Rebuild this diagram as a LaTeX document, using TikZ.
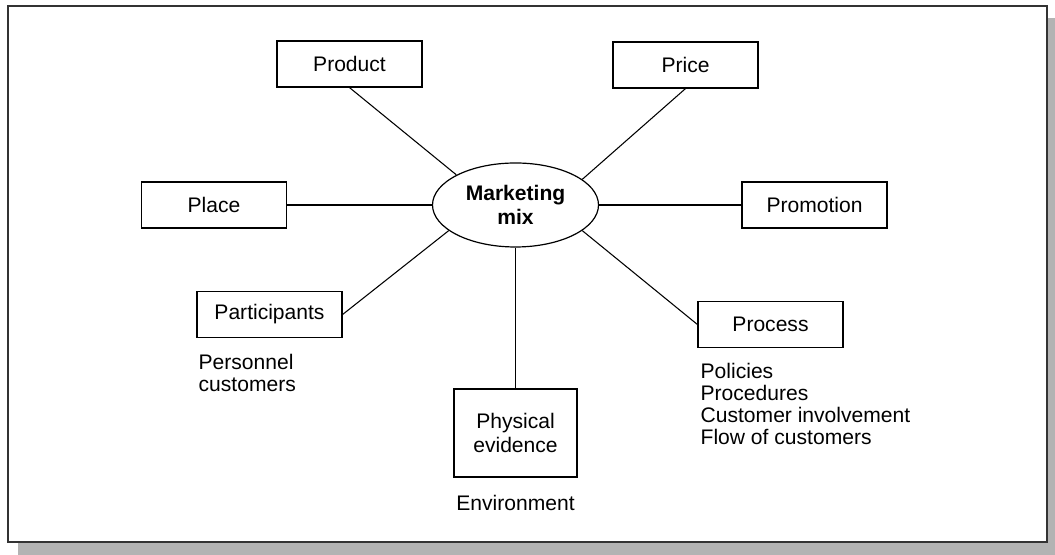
\documentclass[tikz,border=0pt]{standalone}
\usepackage{fontspec}
\setmainfont{Liberation Sans}
\usetikzlibrary{positioning,shapes.geometric}
\definecolor{MixShadow}{HTML}{B3B3B3}
\definecolor{MixFrame}{HTML}{333333}

\begin{document}
\begin{tikzpicture}[x=0.75pt, y=0.75pt,
  font=\fontsize{15.8}{18}\selectfont,
  box/.style={draw, line width=0.9pt, inner sep=0pt,
    minimum width=108.75pt, minimum height=34.5pt, align=center},
  hub/.style={ellipse, draw, line width=0.9pt, inner sep=0pt,
    minimum width=124.5pt, minimum height=63pt, align=center,
    font=\fontsize{15.8}{18.5}\selectfont\bfseries},
  note/.style={inner sep=0pt, align=left,
    font=\fontsize{15.8}{16.5}\selectfont},
  link/.style={line width=0.8pt}]
  \useasboundingbox (0,0) rectangle (1055,555);
  % drop shadow and frame
  \fill[MixShadow] (18,0) rectangle (1055,537);
  \draw[MixFrame, fill=white, line width=1.5pt] (8,13) rectangle (1047,549);

  \node[hub] (mix) at (515.5,350) {Marketing\\mix};
  \node[box] (prod) at (349.5,491) {Product};
  \node[box] (price) at (685.5,490) {Price};
  \node[box] (place) at (214,350) {Place};
  \node[box] (promo) at (814.5,350) {Promotion};
  \node[box] (part) at (269.5,240.5) {Participants};
  \node[box] (proc) at (770.5,230.5) {Process};
  \node[box, minimum width=92.25pt, minimum height=66pt] (phys) at (515.5,122)
    {Physical\\evidence};

  % notes under the boxes
  \node[note, anchor=north west] (partnote) at ([xshift=1.5pt, yshift=-12pt]part.south west)
    {Personnel\\customers};
  \node[note, anchor=north west] (procnote) at ([xshift=2.25pt, yshift=-11.25pt]proc.south west)
    {Policies\\Procedures\\Customer involvement\\Flow of customers};
  \node[note, anchor=north] (physnote) at ([yshift=-12.75pt]phys.south) {Environment};

  \draw[link] (prod.south) -- (mix.153);
  \draw[link] (price.south) -- (mix.21);
  \draw[link] (place) -- (mix);
  \draw[link] (mix) -- (promo);
  \draw[link] (part.east) -- (mix.201);
  \draw[link] (proc.west) -- (mix.339);
  \draw[link] (phys) -- (mix);
\end{tikzpicture}
\end{document}
